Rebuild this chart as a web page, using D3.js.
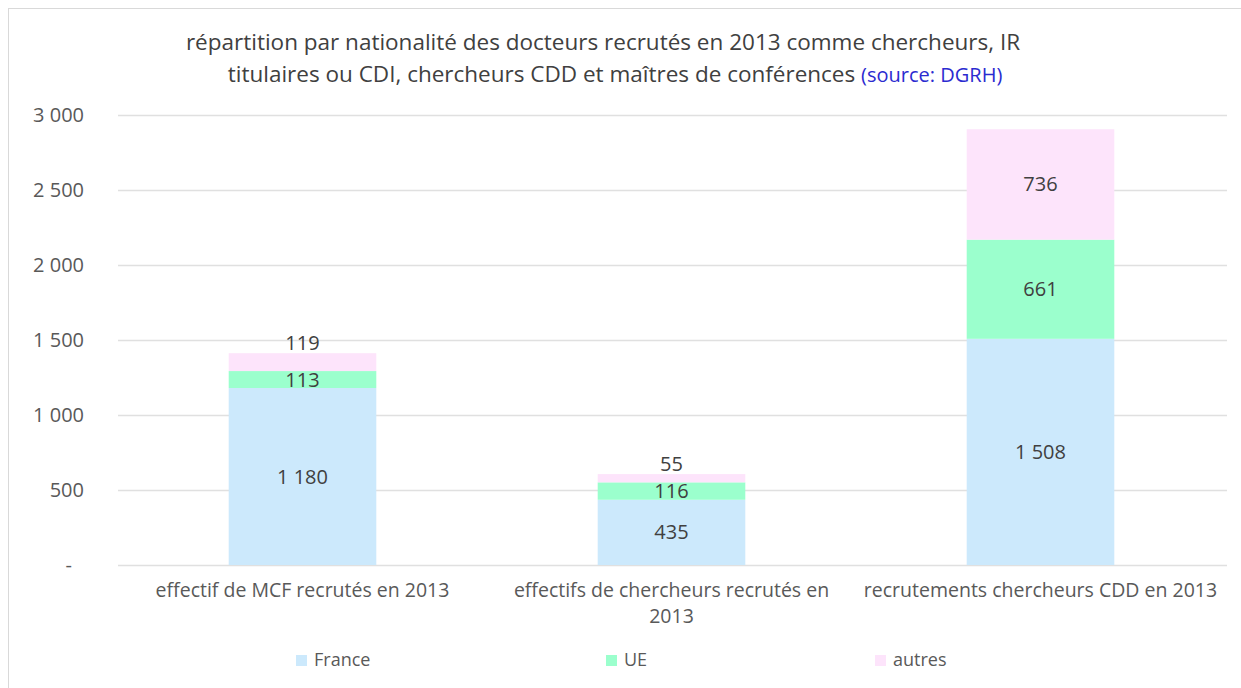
<!DOCTYPE html>
<html>
<head>
<meta charset="utf-8">
<script src="https://cdn.jsdelivr.net/npm/d3@7"></script>
<style>
body { margin: 0; background: #fff; font-family: 'Open Sans', 'Lato', sans-serif; }
text { fill: #595959; }
</style>
</head>
<body>
<svg id="chart"></svg>
<script>
// data
var categories = [
    ['effectif de MCF recrutés en 2013'],
    ['effectifs de chercheurs recrutés en', '2013'],
    ['recrutements chercheurs CDD en 2013']
];
var seriesNames = ['France', 'UE', 'autres'];
var france = [1180, 435, 1508];
var ue = [113, 116, 661];
var autres = [119, 55, 736];
var yTicks = [0, 500, 1000, 1500, 2000, 2500, 3000];
var colors = ['#cce9fc', '#9bffcd', '#fde4fb'];

var W = 1241, H = 688;
var margin = { top: 115, right: 16, bottom: 123, left: 118 };

var svg = d3.select('#chart').attr('width', W).attr('height', H);

// chart frame
svg.append('rect')
    .attr('x', 8.5).attr('y', 8.5)
    .attr('width', W - 4).attr('height', H)
    .attr('fill', 'none').attr('stroke', '#d9d9d9');

var x = d3.scaleBand()
    .domain(d3.range(categories.length))
    .range([margin.left, W - margin.right])
    .padding(0);

var y = d3.scaleLinear()
    .domain([0, 3000])
    .range([H - margin.bottom, margin.top]);

// gridlines
svg.append('g').selectAll('line')
    .data(yTicks)
    .enter().append('line')
    .attr('x1', margin.left).attr('x2', W - margin.right + 2)
    .attr('y1', function (d) { return Math.round(y(d)) + 0.5; })
    .attr('y2', function (d) { return Math.round(y(d)) + 0.5; })
    .attr('stroke', '#e0e0e0')
    .attr('stroke-width', 1.3);

// y axis labels
var numFmt = function (v) { return d3.format(',')(v).replace(/,/g, ' '); };
svg.append('g').selectAll('text')
    .data(yTicks)
    .enter().append('text')
    .attr('x', function (d) { return d === 0 ? 72 : 84; })
    .attr('y', function (d) { return y(d) + 7; })
    .attr('text-anchor', 'end')
    .style('font-size', '20px')
    .text(function (d) { return d === 0 ? '-' : numFmt(d); });

// stack
var rows = france.map(function (f, i) { return { France: f, UE: ue[i], autres: autres[i] }; });
var stack = d3.stack().keys(seriesNames)(rows);

var barW = x.bandwidth() * 0.4;

var layers = svg.append('g').selectAll('g')
    .data(stack)
    .enter().append('g')
    .attr('fill', function (d, i) { return colors[i]; });

layers.selectAll('rect')
    .data(function (d) { return d; })
    .enter().append('rect')
    .attr('x', function (d, i) { return x(i) + (x.bandwidth() - barW) / 2; })
    .attr('width', barW)
    .attr('y', function (d) { return y(d[1]); })
    .attr('height', function (d) { return y(d[0]) - y(d[1]); });

// value labels
stack.forEach(function (layer, li) {
    svg.append('g').selectAll('text')
        .data(layer)
        .enter().append('text')
        .attr('x', function (d, i) { return x(i) + x.bandwidth() / 2; })
        .attr('y', function (d) {
            var h = y(d[0]) - y(d[1]);
            // small top segments get their label above the bar
            if (li === stack.length - 1 && h < 20) return y(d[1]) - 3;
            return (y(d[0]) + y(d[1])) / 2 + 7;
        })
        .attr('text-anchor', 'middle')
        .style('font-size', '20px')
        .style('fill', '#404040')
        .text(function (d) { return numFmt(d[1] - d[0]); });
});

// category labels
var cat = svg.append('g').selectAll('text')
    .data(categories)
    .enter().append('text')
    .attr('x', function (d, i) { return x(i) + x.bandwidth() / 2; })
    .attr('y', 597)
    .attr('text-anchor', 'middle')
    .style('font-size', '19.5px');
cat.selectAll('tspan')
    .data(function (d) { return d; })
    .enter().append('tspan')
    .attr('x', function () { return d3.select(this.parentNode).attr('x'); })
    .attr('dy', function (d, i) { return i ? 26 : 0; })
    .text(function (d) { return d; });

// title
var title = svg.append('text')
    .attr('text-anchor', 'middle')
    .style('font-size', '22.5px')
    .style('fill', '#404040');
title.append('tspan').attr('x', 603).attr('y', 50)
    .text('répartition par nationalité des docteurs recrutés en 2013 comme chercheurs, IR');
var t2 = title.append('tspan').attr('x', 615).attr('y', 82);
t2.append('tspan').text('titulaires ou CDI, chercheurs CDD et maîtres de conférences ');
t2.append('tspan').style('fill', '#2b2bd0').style('font-size', '20px').text('(source: DGRH)');

// legend
var legendX = [296, 606, 875];
var leg = svg.append('g').selectAll('g')
    .data(seriesNames)
    .enter().append('g')
    .attr('transform', function (d, i) { return 'translate(' + legendX[i] + ',655)'; });
leg.append('rect')
    .attr('x', 0).attr('y', 0).attr('width', 11).attr('height', 11)
    .attr('fill', function (d, i) { return colors[i]; });
leg.append('text')
    .attr('x', 18).attr('y', 11)
    .style('font-size', '18px')
    .text(function (d) { return d; });
</script>
</body>
</html>
